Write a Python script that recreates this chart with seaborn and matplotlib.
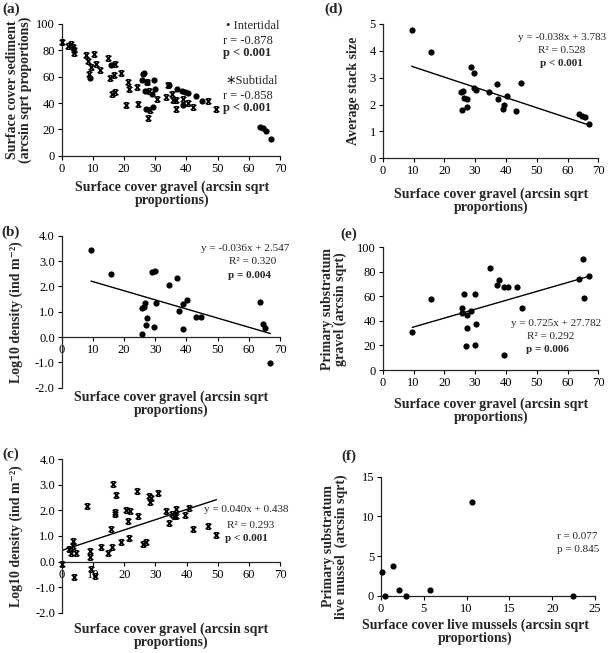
import matplotlib
matplotlib.use("Agg")
import matplotlib.pyplot as plt
from matplotlib.path import Path
from matplotlib.ticker import FormatStrFormatter, MultipleLocator
import seaborn as sns

# ---- data ----
# (a) surface cover sediment vs gravel
int_gravel_a = [9.1, 15.8, 25.6, 26.0, 26.4, 26.6, 26.9, 27.3, 28.9, 29.4, 29.6, 29.9,
                34.3, 36.9, 38.5, 38.8, 39.5, 40.6, 43.1, 44.9, 63.6, 64.7, 65.4, 67.0]
int_sed_a = [59, 69, 57.5, 62, 63, 49.4, 35.2, 56, 46.8, 37.2, 57.5, 50.4,
             53.5, 50.4, 49.4, 38.2, 48.6, 47.8, 45.3, 41.5, 21.8, 20.8, 18.7, 12.7]
sub_gravel_a = [0.0, 2.1, 3.0, 3.5, 4.0, 4.0, 7.8, 10.2, 8.5, 10.9, 9.3, 8.9,
                12.3, 14.7, 17.1, 16.9, 15.5, 18.9, 16.0, 17.1, 21.2, 21.6, 24.3, 20.6,
                24.4, 27.3, 28.0, 27.8, 28.3, 30.5, 33.3, 34.2, 35.5, 35.6, 36.5, 36.5,
                39.0, 40.6, 42.0, 47.0, 49.5]
sub_sed_a = [86, 83.3, 84.6, 82.8, 80, 78, 76.5, 77, 71.6, 69.6, 67, 62,
             65, 73.9, 69.4, 61.3, 59.2, 62.5, 46.8, 48.6, 55.7, 51, 52.4, 38.2,
             39, 55.7, 49, 28.4, 34.7, 42.8, 44.3, 53.7, 46.6, 42.3, 42.3, 35.2,
             43, 40.3, 37.2, 41.8, 35.2]

# (b) intertidal log10 density
int_gravel_b = [9.4, 15.8, 25.6, 25.8, 26.3, 26.7, 27.0, 27.3, 28.8, 29.6, 29.9, 30.1,
                34.5, 37.0, 37.5, 39.0, 39.0, 40.3, 43.2, 44.8, 63.6, 64.7, 65.3, 66.9]
int_dens_b = [3.43, 2.5, 0.13, 1.14, 1.2, 1.36, 0.49, 0.75, 2.55, 0.38, 2.62, 1.33,
              2.07, 2.33, 1.03, 0.3, 1.29, 1.46, 0.8, 0.8, 1.37, 0.53, 0.36, -1.01]
fit_b = (-0.036, 2.547)

# (c) subtidal log10 density
sub_gravel_c = [0.0, 2.1, 3.0, 3.4, 3.6, 4.5, 4.0, 8.0, 9.1, 9.0, 9.3, 10.5,
                12.4, 14.9, 15.8, 16.2, 16.5, 16.9, 17.1, 17.3, 19.0, 20.7, 21.1, 21.7,
                21.5, 24.1, 24.4, 26.1, 27.1, 28.0, 28.1, 28.7, 30.8, 33.3, 34.2, 35.4,
                36.0, 36.5, 36.5, 39.5, 40.8, 42.2, 47.0, 49.6]
sub_dens_c = [-0.1, 0.49, 0.35, 0.61, 0.8, 0.35, -0.6, 2.16, 0.43, 0.16, -0.3, -0.56,
              0.56, 0.32, 1.26, 0.58, 3.04, 1.94, 1.87, 2.61, 0.78, 2.03, 1.58, 1.96,
              0.94, 2.75, 1.77, 0.68, 0.78, 2.56, 2.32, 2.5, 2.7, 1.97, 1.49, 1.87,
              1.80, 2.04, 1.77, 1.84, 2.1, 1.27, 1.39, 1.03]
fit_c = (0.040, 0.438)

# (d) average stack size
int_gravel_d = [9.4, 15.7, 25.4, 26.2, 25.6, 26.5, 27.3, 27.3, 28.7, 29.8, 29.8, 30.2,
                34.5, 37.1, 37.4, 39.1, 39.3, 40.5, 43.4, 44.9, 63.7, 64.8, 65.7, 67.0]
stack_d = [4.78, 3.95, 2.48, 2.52, 1.8, 2.26, 2.2, 1.92, 3.41, 3.16, 2.6, 2.53,
           2.46, 2.77, 2.21, 1.82, 1.97, 2.32, 1.77, 2.82, 1.64, 1.59, 1.55, 1.29]
fit_d = (-0.038, 3.783)

# (e) primary substratum gravel
int_gravel_e = [9.6, 15.8, 25.9, 25.9, 26.5, 27.0, 27.3, 27.5, 28.8, 29.9, 29.9, 30.2,
                34.7, 37.1, 37.7, 39.3, 40.6, 39.3, 43.5, 45.1, 63.8, 64.9, 65.5, 67.0]
prim_gravel_e = [31.2, 57.6, 50.3, 46.2, 61.7, 19.8, 34.5, 44.8, 48.0, 62.2, 20.1, 37.5,
                 82.9, 69.3, 73.4, 67.4, 67.4, 12.2, 67.7, 50.3, 73.9, 90.2, 59.0, 76.9]
fit_e = (0.725, 27.782)

# (f) live mussels
mussel_cover = [0.08, 0.47, 1.36, 2.14, 2.92, 5.72, 10.6, 22.45]
mussel_prim = [2.94, 0, 3.74, 0.71, 0, 0.71, 11.85, 0]

xlab = "Surface cover gravel (arcsin sqrt\nproportions)"

sns.set_style("ticks")
plt.rcParams["font.family"] = ["Liberation Serif", "DejaVu Serif"]
plt.rcParams["axes.unicode_minus"] = False
plt.rcParams["axes.linewidth"] = 0.9

W, H = 609, 653


def place(x0, x1, top, bottom):
    return [x0 / W, 1 - bottom / H, (x1 - x0) / W, (bottom - top) / H]


def px(x, y):
    return x / W, 1 - y / H


star = Path([(-1, -1), (1, 1), (-1, 1), (1, -1),
             (-0.6, 1), (0.6, 1), (-0.6, -1), (0.6, -1)],
            [Path.MOVETO, Path.LINETO] * 4)


def dots(ax, x, y):
    sns.scatterplot(x=x, y=y, ax=ax, color="black", s=20, linewidth=0,
                    clip_on=False, zorder=3)


def stars(ax, x, y):
    sns.scatterplot(x=x, y=y, ax=ax, marker=star, color="black", edgecolor="black",
                    s=16, linewidth=1.1, clip_on=False, zorder=3)


def trend(ax, x, fit):
    xs = [min(x), max(x)]
    sns.lineplot(x=xs, y=[fit[0] * v + fit[1] for v in xs], ax=ax,
                 color="black", linewidth=1.0, legend=False)


def style(ax, xlim, xstep, ylim, ystep, fmt, xlabel, ylabel, xl, yl):
    ax.set_xlim(*xlim)
    ax.set_ylim(*ylim)
    ax.xaxis.set_major_locator(MultipleLocator(xstep))
    ax.yaxis.set_major_locator(MultipleLocator(ystep))
    ax.yaxis.set_major_formatter(FormatStrFormatter(fmt))
    sns.despine(ax=ax)
    ax.tick_params(labelsize=9, length=3, width=0.8, pad=2, colors="black")
    ax.set_xlabel(xlabel, fontsize=10, fontweight="bold", linespacing=0.95)
    ax.set_ylabel(ylabel, fontsize=10, fontweight="bold", linespacing=0.95)
    ax.xaxis.set_label_coords(*xl)
    ax.yaxis.set_label_coords(*yl)


fig = plt.figure(figsize=(6.09, 6.53), dpi=100)

# (a)
ax = fig.add_axes(place(61.7, 280, 24, 155.7))
dots(ax, int_gravel_a, int_sed_a)
stars(ax, sub_gravel_a, sub_sed_a)
style(ax, (0, 70), 10, (0, 100), 20, "%d", xlab,
      "Surface cover sediment\n(arcsin sqrt proportions)", (0.508, -0.19), (-0.136, 0.5))
fam = ["Liberation Serif", "DejaVu Sans"]
fig.text(*px(226, 26), "\u2022 Intertidal", fontsize=9, va="center", family=fam)
fig.text(*px(223, 40.7), "r = -0.878", fontsize=9, va="center")
fig.text(*px(223, 53.3), "p < 0.001", fontsize=9, va="center", fontweight="bold")
fig.text(*px(225, 81), "\u2217Subtidal", fontsize=9, va="center", family=fam)
fig.text(*px(223, 95.7), "r = -0.858", fontsize=9, va="center")
fig.text(*px(223, 108.3), "p < 0.001", fontsize=9, va="center", fontweight="bold")

# (b)
ax = fig.add_axes(place(61.7, 280, 235.7, 387.7))
dots(ax, int_gravel_b, int_dens_b)
trend(ax, int_gravel_b, fit_b)
style(ax, (0, 70), 10, (-2, 4), 1, "%.1f", xlab,
      "Log10 density (ind m\u207b\u00b2)", (0.5, -0.02), (-0.177, 0.5))
ax.spines["bottom"].set_position(("data", 0))
fig.text(*px(245, 248.7), "y = -0.036x + 2.547", fontsize=8, ha="center", va="center")
fig.text(*px(253, 261.7), "R\u00b2 = 0.320", fontsize=8, ha="center", va="center")
fig.text(*px(250, 276), "p = 0.004", fontsize=8, ha="center", va="center", fontweight="bold")

# (c)
ax = fig.add_axes(place(62, 280, 459.3, 612.7))
stars(ax, sub_gravel_c, sub_dens_c)
trend(ax, sub_gravel_c, fit_c)
style(ax, (0, 70), 10, (-2, 4), 1, "%.1f", xlab,
      "Log10 density (ind m\u207b\u00b2)", (0.5, -0.065), (-0.179, 0.5))
ax.spines["bottom"].set_position(("data", 0))
fig.text(*px(246.7, 510), "y = 0.040x + 0.438", fontsize=8, ha="center", va="center")
fig.text(*px(251, 525), "R\u00b2 = 0.293", fontsize=8, ha="center", va="center")
fig.text(*px(246, 538.3), "p < 0.001", fontsize=8, ha="center", va="center", fontweight="bold")

# (d)
ax = fig.add_axes(place(382.7, 598.3, 24, 158.3))
dots(ax, int_gravel_d, stack_d)
trend(ax, int_gravel_d, fit_d)
style(ax, (0, 70), 10, (0, 5), 1, "%d", xlab,
      "Average stack size", (0.502, -0.215), (-0.105, 0.5))
fig.text(*px(562, 37.3), "y = -0.038x + 3.783", fontsize=8, ha="center", va="center")
fig.text(*px(562, 50.7), "R\u00b2 = 0.528", fontsize=8, ha="center", va="center")
fig.text(*px(561, 63.3), "p < 0.001", fontsize=8, ha="center", va="center", fontweight="bold")

# (e)
ax = fig.add_axes(place(382.7, 598.3, 247.3, 370))
dots(ax, int_gravel_e, prim_gravel_e)
trend(ax, int_gravel_e, fit_e)
style(ax, (0, 70), 10, (0, 100), 20, "%d", xlab,
      "Primary substratum\ngravel (arcsin sqrt)", (0.502, -0.225), (-0.166, 0.5))
fig.text(*px(556, 323.3), "y = 0.725x + 27.782", fontsize=8, ha="center", va="center")
fig.text(*px(551, 336.7), "R\u00b2 = 0.292", fontsize=8, ha="center", va="center")
fig.text(*px(547, 349.3), "p = 0.006", fontsize=8, ha="center", va="center", fontweight="bold")

# (f)
ax = fig.add_axes(place(381, 595, 476.7, 595.7))
dots(ax, mussel_cover, mussel_prim)
style(ax, (0, 25), 5, (0, 15), 5, "%d",
      "Surface cover live mussels (arcsin sqrt\nproportions)",
      "Primary substratum\nlive mussel  (arcsin sqrt)", (0.44, -0.19), (-0.154, 0.416))
fig.text(*px(556.7, 536.7), "r = 0.077", fontsize=8, va="center")
fig.text(*px(556.7, 549.3), "p = 0.845", fontsize=8, va="center")

# panel letters
for lab, x, y in [("(a)", 11, 9), ("(b)", 11, 232.5), ("(c)", 11, 454),
                  ("(d)", 333.5, 9), ("(e)", 349, 234), ("(f)", 349, 456)]:
    fig.text(*px(x, y), lab, fontsize=11, fontweight="bold", ha="center", va="center")

fig.savefig("out.png", dpi=100)
